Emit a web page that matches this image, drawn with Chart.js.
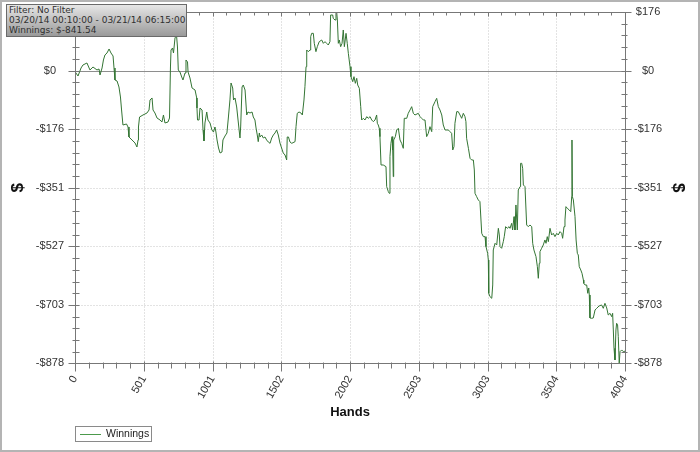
<!DOCTYPE html>
<html><head><meta charset="utf-8">
<script src="https://cdn.jsdelivr.net/npm/chart.js@4.4.1/dist/chart.umd.min.js"></script>
<style>
html,body{margin:0;padding:0;background:#fff;}
#wrap{position:relative;width:700px;height:452px;overflow:hidden;background:#fff;}
#c{position:absolute;left:0;top:0;}
#frame{position:absolute;left:0;top:0;width:700px;height:452px;box-sizing:border-box;border:2px solid #b4b4b4;pointer-events:none;}
#info{position:absolute;left:6px;top:4px;width:177px;height:31px;border:1px solid #6a6a6a;background:linear-gradient(to bottom,#e6e6e6,#9a9a9a);font:9px "DejaVu Sans",sans-serif;font-weight:normal;line-height:10.2px;color:#303030;padding:0 0 0 2px;white-space:nowrap;}
</style></head><body>
<div id="wrap"><canvas id="c" width="700" height="452"></canvas>
<div id="info"></div>
<div id="frame"></div></div>
<script>
const infoLines = ['Filter: No Filter', '03/20/14 00:10:00 - 03/21/14 06:15:00', 'Winnings: $-841.54'];
const seriesLabel = 'Winnings';
const xTitle = 'Hands';
const yTitle = '$';
const xTickValues = [0, 501, 1001, 1502, 2002, 2503, 3003, 3504, 4004];
const yTickValues = [176, 0, -176, -351, -527, -703, -878];
const hands = [0,22,44,58,87,109,131,160,175,182,197,207,218,233,248,262,277,284,291,306,320,331,339,349,375,386,393,415,437,451,459,462,470,495,524,539,546,561,568,582,597,619,633,644,655,677,688,695,699,710,717,728,739,746,752,764,777,786,801,808,819,823,837,852,874,886,888,892,903,910,925,932,939,946,959,968,983,997,1008,1019,1026,1034,1045,1056,1070,1077,1092,1106,1117,1128,1136,1148,1154,1165,1177,1187,1201,1206,1216,1225,1238,1250,1259,1274,1289,1298,1310,1318,1327,1334,1342,1347,1359,1371,1383,1395,1407,1420,1432,1444,1456,1468,1480,1492,1516,1529,1541,1545,1554,1565,1578,1602,1609,1618,1631,1645,1655,1667,1674,1682,1687,1698,1711,1716,1723,1735,1742,1754,1764,1778,1796,1808,1820,1832,1844,1856,1861,1876,1880,1893,1900,1905,1910,1917,1924,1934,1944,1953,1961,1973,1982,1990,2002,2009,2022,2031,2041,2051,2058,2070,2080,2087,2099,2111,2124,2135,2148,2160,2172,2184,2196,2201,2208,2215,2220,2228,2244,2264,2269,2281,2288,2293,2300,2308,2313,2317,2320,2332,2342,2354,2366,2378,2390,2397,2415,2426,2439,2451,2463,2475,2499,2512,2524,2536,2548,2560,2572,2584,2597,2604,2621,2633,2645,2657,2670,2681,2694,2718,2730,2742,2750,2759,2766,2779,2790,2803,2815,2827,2839,2846,2851,2864,2876,2888,2900,2907,2912,2924,2936,2948,2961,2973,2985,2992,3004,3009,3012,3021,3034,3041,3045,3058,3070,3082,3089,3094,3106,3118,3125,3135,3147,3160,3167,3179,3186,3196,3203,3210,3220,3227,3240,3244,3252,3259,3264,3276,3288,3300,3312,3325,3332,3341,3356,3366,3373,3380,3385,3397,3409,3421,3429,3438,3446,3458,3470,3482,3494,3507,3518,3531,3543,3550,3560,3567,3574,3584,3598,3609,3616,3618,3621,3628,3640,3648,3657,3664,3671,3682,3691,3701,3704,3713,3725,3733,3740,3744,3749,3761,3773,3786,3798,3815,3834,3846,3858,3871,3882,3895,3907,3914,3919,3924,3931,3938,3943,3950,3955,3962,3968,3980,3992,4004];
const winnings = [-3,-16,8,17,23,2,11,2,5,-13,8,32,47,53,65,53,44,8,-28,-31,-49,-79,-118,-163,-160,-169,-199,-208,-217,-229,-208,-169,-139,-133,-127,-118,-88,-82,-118,-127,-142,-148,-154,-133,-157,-154,-142,11,62,68,53,98,107,71,2,-4,-19,-28,-7,32,26,-4,-22,-52,-58,-82,-112,-148,-148,-112,-118,-178,-211,-157,-124,-148,-157,-178,-184,-169,-184,-208,-232,-247,-244,-208,-196,-187,-139,-88,-37,-52,-88,-82,-109,-148,-202,-169,-49,-43,-58,-133,-124,-127,-124,-139,-148,-172,-193,-213,-187,-199,-193,-202,-199,-208,-214,-218,-202,-193,-187,-178,-193,-217,-247,-253,-268,-199,-199,-214,-218,-213,-168,-128,-124,-127,-133,-88,-48,12,62,57,62,102,112,112,82,57,72,87,92,82,87,82,77,87,167,167,157,152,172,176,152,82,92,72,82,122,72,112,82,52,12,-18,-33,-18,-38,-23,-43,-53,-108,-148,-143,-148,-138,-143,-138,-148,-153,-148,-133,-158,-163,-173,-198,-283,-283,-288,-348,-363,-368,-258,-218,-198,-238,-318,-208,-198,-178,-173,-208,-218,-233,-143,-143,-128,-118,-108,-128,-133,-128,-138,-143,-148,-148,-198,-188,-168,-183,-108,-93,-83,-108,-118,-133,-163,-178,-178,-183,-188,-238,-228,-158,-123,-123,-133,-143,-128,-138,-153,-203,-233,-263,-268,-268,-298,-368,-378,-388,-393,-488,-498,-498,-528,-548,-568,-668,-678,-683,-643,-538,-518,-523,-473,-493,-528,-533,-513,-498,-468,-473,-468,-473,-458,-478,-438,-478,-403,-478,-358,-348,-278,-278,-293,-343,-348,-463,-468,-463,-468,-518,-538,-558,-588,-623,-578,-543,-533,-523,-508,-518,-498,-513,-473,-493,-488,-498,-488,-493,-483,-488,-503,-468,-448,-408,-413,-418,-423,-378,-208,-378,-388,-438,-508,-548,-553,-588,-598,-608,-628,-638,-643,-643,-668,-652,-673,-742,-743,-742,-718,-713,-706,-703,-713,-698,-712,-733,-728,-738,-728,-778,-833,-868,-778,-758,-763,-798,-877,-843,-838,-843,-841.54];

document.getElementById('info').innerHTML = infoLines.map(t => '<div>' + t.replace(/&/g,'&amp;').replace(/</g,'&lt;') + '</div>').join('');

const FAM = "'Liberation Sans', Arial, Helvetica, sans-serif";
const points = hands.map((h, i) => ({x: h, y: winnings[i]}));
const fixTicks = vals => scale => { scale.ticks = vals.map(v => ({value: v})); };
const yLabel = v => (v < 0 ? '-$' : '$') + Math.abs(v);
const LINE = '#347534';
const AXIS = '#777';

function minorPositions(vals) {
  const out = [];
  const s = vals.slice().sort((a, b) => a - b);
  for (let i = 0; i < s.length - 1; i++) {
    for (let k = 1; k < 5; k++) out.push(s[i] + (s[i + 1] - s[i]) * k / 5);
  }
  return out;
}

const gridPlugin = {
  id: 'gridPlug',
  beforeDatasetsDraw(chart) {
    const {ctx, chartArea: a, scales: {x, y}} = chart;
    const L = Math.round(a.left) + 0.5, R = Math.round(a.right) + 0.5, T = Math.round(a.top) + 0.5, B = Math.round(a.bottom) + 0.5;
    ctx.save();
    ctx.lineWidth = 1;
    ctx.strokeStyle = '#c6c6c6';
    ctx.setLineDash([1, 2]);
    xTickValues.forEach(v => {
      if (v === x.min || v === x.max) return;
      const px = Math.round(x.getPixelForValue(v)) + 0.5;
      ctx.beginPath(); ctx.moveTo(px, T); ctx.lineTo(px, B); ctx.stroke();
    });
    yTickValues.forEach(v => {
      if (v === 0 || v === y.min || v === y.max) return;
      const py = Math.round(y.getPixelForValue(v)) + 0.5;
      ctx.beginPath(); ctx.moveTo(L, py); ctx.lineTo(R, py); ctx.stroke();
    });
    ctx.setLineDash([]);
    ctx.strokeStyle = '#8e8e8e';
    const z = Math.round(y.getPixelForValue(0)) + 0.5;
    ctx.beginPath(); ctx.moveTo(L, z); ctx.lineTo(R, z); ctx.stroke();
    ctx.restore();
  },
  afterDatasetsDraw(chart) {
    const {ctx, chartArea: a, scales: {x, y}} = chart;
    const L = Math.round(a.left) + 0.5, R = Math.round(a.right) + 0.5, T = Math.round(a.top) + 0.5, B = Math.round(a.bottom) + 0.5;
    ctx.save();
    ctx.lineWidth = 1;
    ctx.strokeStyle = AXIS;
    ctx.strokeRect(L, T, R - L, B - T);
    const seg = (x1, y1, x2, y2) => { ctx.beginPath(); ctx.moveTo(x1, y1); ctx.lineTo(x2, y2); ctx.stroke(); };
    xTickValues.forEach(v => {
      const px = Math.round(x.getPixelForValue(v)) + 0.5;
      seg(px, B - 2, px, B + 8);
      seg(px, T, px, T + 4);
    });
    minorPositions(xTickValues).forEach(v => {
      const px = Math.round(x.getPixelForValue(v)) + 0.5;
      seg(px, B - 1, px, B + 5);
      seg(px, T, px, T + 3);
    });
    yTickValues.forEach(v => {
      const py = Math.round(y.getPixelForValue(v)) + 0.5;
      seg(L - 7, py, L + 4, py);
      seg(R - 4, py, R + 6, py);
    });
    minorPositions(yTickValues).forEach(v => {
      const py = Math.round(y.getPixelForValue(v)) + 0.5;
      seg(L - 3, py, L + 4, py);
      seg(R - 4, py, R + 2, py);
    });
    ctx.restore();
  },
  afterDraw(chart) {
    const ctx = chart.ctx;
    const ds = chart.data.datasets[0];
    ctx.save();
    ctx.strokeStyle = '#8a8a8a';
    ctx.lineWidth = 1;
    ctx.strokeRect(75.5, 426.5, 76, 15);
    ctx.strokeStyle = '#4c9a4c';
    ctx.beginPath(); ctx.moveTo(80, 434.5); ctx.lineTo(101, 434.5); ctx.stroke();
    ctx.fillStyle = '#222';
    ctx.font = '10.5px ' + FAM;
    ctx.textBaseline = 'middle';
    ctx.textAlign = 'left';
    ctx.fillText(ds.label, 106, 434.5);
    ctx.restore();
  }
};

const tickFont = {family: FAM, size: 11};
const yScale = (pos, pad, titlePad) => ({
  type: 'linear', position: pos, min: -878, max: 176,
  afterBuildTicks: fixTicks(yTickValues),
  afterFit: s => { s.width = 75; },
  grid: {display: false, drawTicks: true, tickLength: 8},
  border: {display: false},
  ticks: {font: tickFont, color: '#333', crossAlign: 'center', padding: pad, autoSkip: false, callback: yLabel},
  title: {display: true, text: yTitle, color: '#111', font: {family: FAM, size: 17, weight: 'bold'}, padding: {top: titlePad, bottom: 0}}
});

new Chart(document.getElementById('c').getContext('2d'), {
  type: 'line',
  data: {datasets: [{label: seriesLabel, data: points, borderColor: LINE, backgroundColor: LINE, borderWidth: 1, pointRadius: 0, tension: 0, fill: false}]},
  options: {
    responsive: false, animation: false, devicePixelRatio: 1,
    parsing: false, normalized: true,
    layout: {padding: {top: 12, left: 0, right: 0, bottom: 0}},
    plugins: {legend: {display: false}, tooltip: {enabled: false}},
    scales: {
      x: {
        type: 'linear', position: 'bottom', min: 0, max: 4004,
        afterBuildTicks: fixTicks(xTickValues),
        afterFit: s => { s.height = 88.7; },
        grid: {display: false, drawTicks: true, tickLength: 8},
        border: {display: false},
        ticks: {font: tickFont, color: '#333', maxRotation: 60, minRotation: 60, padding: 2, autoSkip: false, callback: v => String(v)},
        title: {display: true, text: xTitle, color: '#111', font: {family: FAM, size: 13, weight: 'bold'}, padding: {top: 0, bottom: 32}}
      },
      y: yScale('left', 3, 8),
      y2: yScale('right', 1, 12)
    }
  },
  plugins: [gridPlugin]
});
</script>
</body></html>
